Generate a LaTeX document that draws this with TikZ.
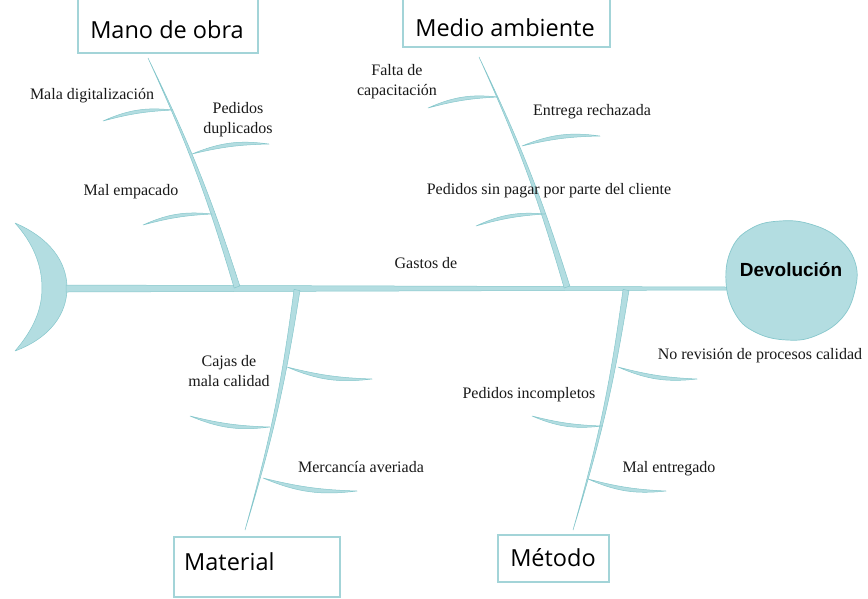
\documentclass[tikz,border=0pt]{standalone}
\usepackage{fontspec}
\setmainfont{Liberation Serif}
\newfontfamily\catfont{Open Sans}
\newfontfamily\headsans{Liberation Sans}
\usetikzlibrary{calc}
\definecolor{bonefill}{HTML}{B3DDE1}
\definecolor{boneline}{HTML}{86C7CC}
\definecolor{boxline}{HTML}{A3D4D8}
\tikzset{
 bonestyle/.style={fill=bonefill, draw=boneline, line width=0.5pt, line join=round},
 catbox/.style={draw=boxline, line width=1.2pt, fill=white, inner sep=0pt},
 cattext/.style={font=\catfont\fontsize{23.5}{28}\selectfont, inner sep=0pt},
 lbl/.style={font=\fontsize{16}{20}\selectfont, inner sep=0pt, anchor=base, text=black!90},
}
\newcommand\mybone[4]{\filldraw[bonestyle] (#1) to[bend left=#4] ($(#2)!#3!90:(#1)$) -- ($(#2)!#3!-90:(#1)$) to[bend right=#4] (#1) -- cycle;}
\newcommand\mytwig[4]{\filldraw[bonestyle] (#1) to[bend left=#3] (#2) to[bend right=#4] (#1) -- cycle;}
\begin{document}
\begin{tikzpicture}[x=1pt,y=-1pt]
\clip (0,0) rectangle (868,598);
\fill[white] (0,0) rectangle (868,598);

% coordinates
\coordinate (tailR) at (66,288.5);
\coordinate (headL) at (727,288.5);
\coordinate (t1) at (148,58);  \coordinate (b1) at (237,287);
\coordinate (t2) at (479,57);  \coordinate (b2) at (567,287);
\coordinate (t3) at (245,530); \coordinate (b3) at (297,290);
\coordinate (t4) at (573,530); \coordinate (b4) at (626,290);
\coordinate (j11) at (173,110); \coordinate (e11) at (103,121);
\coordinate (j12) at (192,154); \coordinate (e12) at (269,144);
\coordinate (j13) at (212,214); \coordinate (e13) at (143,225);
\coordinate (j21) at (498,97);  \coordinate (e21) at (428,108);
\coordinate (j22) at (522,146); \coordinate (e22) at (600,136);
\coordinate (j23) at (545,214); \coordinate (e23) at (476,226);
\coordinate (j31) at (287,367); \coordinate (e31) at (372,379);
\coordinate (j32) at (270,427); \coordinate (e32) at (190,416);
\coordinate (j33) at (263,478); \coordinate (e33) at (357,491);
\coordinate (j41) at (618,367); \coordinate (e41) at (697,379);
\coordinate (j42) at (602,426); \coordinate (e42) at (532,416);
\coordinate (j43) at (588,479); \coordinate (e43) at (666,491);

% tail
\filldraw[bonestyle] (15,223) .. controls (50,238) and (67,262) .. (67,288) .. controls (67,314) and (50,338) .. (15,351) .. controls (33,330) and (42,310) .. (42,288) .. controls (42,265) and (33,243) .. (15,223) -- cycle;

% spine
\filldraw[bonestyle] ($(tailR)+(0,-3.5)$) -- ($(headL)+(0,-1.5)$) -- ($(headL)+(0,1.5)$) -- ($(tailR)+(0,3.5)$) -- cycle;

% main bones
\mybone{t1}{b1}{3pt}{4}
\mybone{t2}{b2}{3pt}{4}
\mybone{t3}{b3}{3pt}{-4}
\mybone{t4}{b4}{3pt}{-4}

% twigs
\mytwig{j11}{e11}{-15}{-6}
\mytwig{j12}{e12}{15}{6}
\mytwig{j13}{e13}{-15}{-6}
\mytwig{j21}{e21}{-15}{-6}
\mytwig{j22}{e22}{15}{6}
\mytwig{j23}{e23}{-15}{-6}
\mytwig{j31}{e31}{-15}{-6}
\mytwig{j32}{e32}{15}{6}
\mytwig{j33}{e33}{-15}{-6}
\mytwig{j41}{e41}{-15}{-6}
\mytwig{j42}{e42}{15}{6}
\mytwig{j43}{e43}{-15}{-6}

% head
\filldraw[bonestyle, line width=0.7pt] plot[smooth cycle, tension=0.7] coordinates {(726,282) (732,248) (752,228) (780,221) (810,224) (838,238) (855,262) (855,290) (842,318) (815,336) (787,340) (757,333) (736,315)};
\node[font=\headsans\bfseries\fontsize{19}{22}\selectfont, inner sep=0pt, anchor=base] (head) at (791,276) {Devolución};

% category boxes
\node[catbox, minimum width=180pt, minimum height=58pt] (manobox) at (168,24) {};
\node[cattext] (manotxt) at (167,30) {Mano de obra};
\node[catbox, minimum width=207pt, minimum height=52pt] (mediobox) at (506.5,21) {};
\node[cattext] (mediotxt) at (505,28) {Medio ambiente};
\node[catbox, minimum width=166pt, minimum height=60pt] (matbox) at (257,567) {};
\node[cattext, anchor=west] (mattxt) at (184,562) {Material};
\node[catbox, minimum width=111pt, minimum height=47pt] (metbox) at (553.5,558.5) {};
\node[cattext] (mettxt) at (553,558) {Método};

% labels
\node[lbl] (l11) at (92,99) {Mala digitalización};
\node[lbl] (l12a) at (238,113) {Pedidos};
\node[lbl] (l12b) at (238,133) {duplicados};
\node[lbl] (l13) at (131,195) {Mal empacado};
\node[lbl] (l21a) at (397,75) {Falta de};
\node[lbl] (l21b) at (397,95) {capacitación};
\node[lbl] (l22) at (592,115) {Entrega rechazada};
\node[lbl] (l23) at (549,194) {Pedidos sin pagar por parte del cliente};
\node[lbl] (lg) at (426,268) {Gastos de};
\node[lbl] (l31a) at (229,366) {Cajas de};
\node[lbl] (l31b) at (229,386) {mala calidad};
\node[lbl] (l33) at (361,472) {Mercancía averiada};
\node[lbl] (l41) at (760,359) {No revisión de procesos calidad};
\node[lbl] (l42) at (529,398) {Pedidos incompletos};
\node[lbl] (l43) at (669,472) {Mal entregado};
\end{tikzpicture}
\end{document}
